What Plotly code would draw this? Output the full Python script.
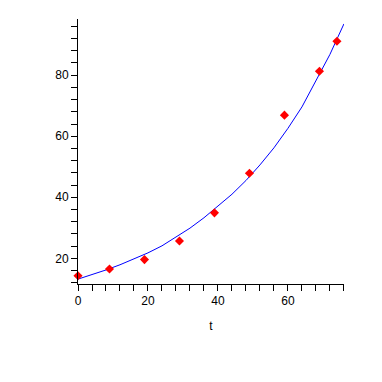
import plotly.graph_objects as go

# Observed data points
t_data = [0, 9, 19, 29, 39, 49, 59, 69, 74]
y_data = [14.3, 16.5, 19.6, 25.7, 34.9, 47.9, 66.9, 81.3, 91.1]

# Fitted curve values
t_curve = [0, 4, 8, 12, 16, 20, 24, 28, 32, 36, 40, 44, 48, 52, 56, 60, 64, 68, 72, 76]
y_curve = [13.2, 14.6, 16.2, 17.9, 19.8, 21.8, 24.1, 26.9, 29.9, 33.3, 37.0, 41.0,
           45.5, 50.6, 56.2, 62.6, 69.6, 78.0, 86.8, 96.8]

x_title = "t"

fig = go.Figure()
fig.add_trace(go.Scatter(x=t_curve, y=y_curve, mode="lines",
                         line=dict(color="#0000ff", width=1), cliponaxis=False,
                         hoverinfo="skip"))
fig.add_trace(go.Scatter(x=t_data, y=y_data, mode="markers",
                         marker=dict(symbol="diamond", size=7, color="#ff0000"),
                         cliponaxis=False))

axis_font = dict(family="Liberation Sans, Arial, sans-serif", size=12, color="black")

fig.update_layout(
    width=382, height=382,
    margin=dict(l=70, r=46, t=11, b=106, pad=0),
    paper_bgcolor="white", plot_bgcolor="white",
    showlegend=False,
    font=axis_font,
    xaxis=dict(range=[0, 76.02], showgrid=False, zeroline=False,
               showline=True, linecolor="black", linewidth=1,
               ticks="outside", ticklen=6, tickcolor="black", tickwidth=1,
               tick0=0, dtick=20, tickfont=axis_font,
               minor=dict(ticks="outside", ticklen=6, tickcolor="black",
                          dtick=4, tick0=0, showgrid=False),
               title=dict(text=x_title, font=axis_font, standoff=14)),
    yaxis=dict(range=[11.6, 98.4], showgrid=False, zeroline=False,
               showline=True, linecolor="black", linewidth=1,
               ticks="outside", ticklen=6, tickcolor="black", tickwidth=1,
               tick0=0, dtick=20, tickfont=axis_font,
               minor=dict(ticks="outside", ticklen=6, tickcolor="black",
                          dtick=4, tick0=0, showgrid=False)),
)

fig.write_html("out.html")
